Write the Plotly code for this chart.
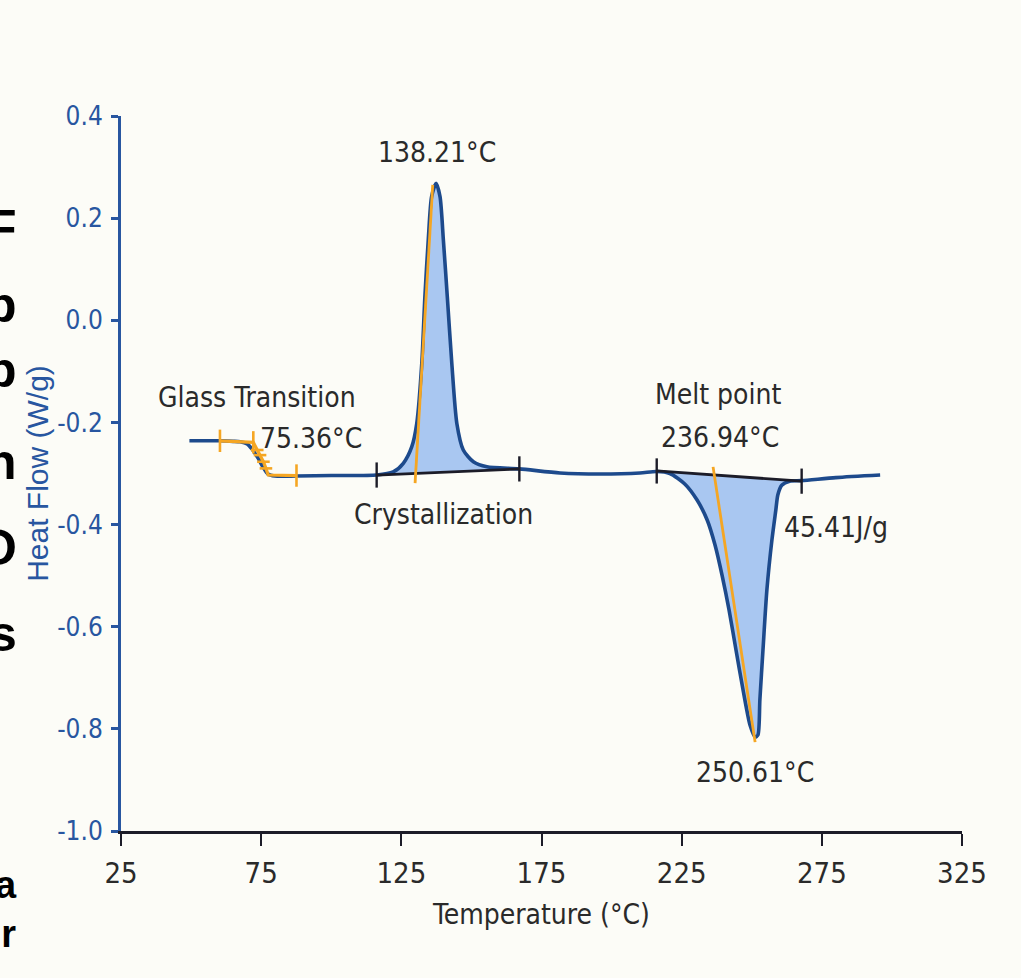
import plotly.graph_objects as go

# ---- data ----
temperature = [49.4, 55.0, 60.3, 65.0, 67.5, 70.0, 71.7, 73.9, 75.6, 77.4, 79.9, 87.7, 100.0,
               116.2, 122.1, 125.7, 128.7, 130.5, 132.3, 133.4, 134.6, 135.8, 137.4, 138.8,
               140.0, 141.4, 143.0, 144.8, 147.1, 150.7, 155.5, 167.1, 181.6, 195.9, 210.1,
               216.1, 220.8, 226.2, 230.5, 234.1, 236.9, 239.4, 241.9, 244.4, 246.9, 249.4,
               251.2, 252.2, 252.9, 254.0, 255.4, 257.2, 258.6, 259.3, 260.7, 263.5, 267.8,
               280.0, 295.8]
heat_flow = [-0.236, -0.236, -0.236, -0.237, -0.238, -0.242, -0.252, -0.270, -0.287, -0.301,
             -0.305, -0.305, -0.304,
             -0.303, -0.297, -0.280, -0.248, -0.202, -0.084, 0.046, 0.157, 0.242, 0.268, 0.242,
             0.157, 0.046, -0.084, -0.202, -0.254, -0.277, -0.287, -0.291, -0.299, -0.301, -0.299,
             -0.296, -0.300, -0.321, -0.352, -0.391, -0.440, -0.499, -0.567, -0.646, -0.724, -0.793,
             -0.816, -0.812, -0.743, -0.646, -0.528, -0.430, -0.371, -0.342, -0.323, -0.315, -0.314,
             -0.308, -0.303]

cryst_base_T = [116.2, 167.1]
cryst_base_v = [-0.303, -0.291]
melt_base_T = [216.1, 267.8]
melt_base_v = [-0.295, -0.315]

cryst_onset_T = [129.9, 136.2]
cryst_onset_v = [-0.319, 0.265]
melt_onset_T = [236.2, 251.2]
melt_onset_v = [-0.287, -0.826]

glass_T = [60.3, 72.2, 73.6, 74.6, 75.8, 76.7, 77.5, 87.6]
glass_v = [-0.236, -0.239, -0.254, -0.264, -0.277, -0.290, -0.303, -0.304]
glass_tick_T = [60.3, 72.2, 87.6]
glass_tick_v = [-0.236, -0.239, -0.304]
glass_step_T = [73.6, 74.6, 75.8, 76.7]
glass_step_v = [-0.254, -0.264, -0.277, -0.290]

x_ticks = [25, 75, 125, 175, 225, 275, 325]
y_ticks = [0.4, 0.2, 0.0, -0.2, -0.4, -0.6, -0.8, -1.0]
y_tick_text = ["0.4", "0.2", "0.0", "-0.2", "-0.4", "-0.6", "-0.8", "-1.0"]

labels = [
    ("138.21°C", 137.7, 0.328),
    ("Glass Transition", 73.5, -0.152),
    ("75.36°C", 92.8, -0.232),
    ("Crystallization", 139.9, -0.381),
    ("Melt point", 238.0, -0.146),
    ("236.94°C", 238.7, -0.230),
    ("45.41J/g", 280.1, -0.405),
    ("250.61°C", 251.2, -0.886),
]

side_letters = [("F", 228), ("p", 305), ("p", 370), ("n", 462), ("O", 548),
                ("s", 634), ("a<br>r", 909)]

CURVE = "#1d4a8c"
FILL = "#a9c7f1"
ORANGE = "#f5a623"
BASE = "#1c1c28"
AXBLUE = "#2856a0"
TXT = "#2a2a2a"
NARROW = "Liberation Sans Narrow, DejaVu Sans Condensed, Arial Narrow, sans-serif"

fig = go.Figure()


def region(lo, hi, base_T, base_v):
    xs = [t for t in temperature if lo <= t <= hi]
    ys = [v for t, v in zip(temperature, heat_flow) if lo <= t <= hi]
    return xs + base_T[::-1] + [xs[0]], ys + base_v[::-1] + [ys[0]]


for bT, bv in ((cryst_base_T, cryst_base_v), (melt_base_T, melt_base_v)):
    fx, fy = region(bT[0], bT[1], bT, bv)
    fig.add_trace(go.Scatter(x=fx, y=fy, mode="lines", fill="toself", fillcolor=FILL,
                             line=dict(width=0, color=FILL), hoverinfo="skip"))

fig.add_trace(go.Scatter(x=temperature, y=heat_flow, mode="lines",
                         line=dict(color=CURVE, width=3.6, shape="spline", smoothing=0.7)))

for bT, bv in ((cryst_base_T, cryst_base_v), (melt_base_T, melt_base_v)):
    fig.add_trace(go.Scatter(x=bT, y=bv, mode="lines+markers",
                             line=dict(color=BASE, width=2.8),
                             marker=dict(symbol="line-ns", size=18,
                                         line=dict(color=BASE, width=2.4))))

for oT, ov in ((cryst_onset_T, cryst_onset_v), (melt_onset_T, melt_onset_v)):
    fig.add_trace(go.Scatter(x=oT, y=ov, mode="lines", line=dict(color=ORANGE, width=2.8)))

fig.add_trace(go.Scatter(x=glass_T, y=glass_v, mode="lines", line=dict(color=ORANGE, width=3.2)))
fig.add_trace(go.Scatter(x=glass_tick_T, y=glass_tick_v, mode="markers",
                         marker=dict(symbol="line-ns", size=16, line=dict(color=ORANGE, width=2.6))))
fig.add_trace(go.Scatter(x=glass_step_T, y=glass_step_v, mode="markers",
                         marker=dict(symbol="line-ew", size=9, line=dict(color=ORANGE, width=2.6))))

for txt, tx, ty in labels:
    fig.add_annotation(x=tx, y=ty, text=txt, showarrow=False, xanchor="center", yanchor="middle",
                       font=dict(family=NARROW, size=28, color=TXT))

for ch, py in side_letters:
    fig.add_annotation(xref="paper", yref="paper", x=(19 - 121) / 841, y=(831 - py) / 715,
                       text="<b>" + ch + "</b>", showarrow=False, xanchor="right", yanchor="middle",
                       align="right",
                       font=dict(family="Liberation Sans, Arial, sans-serif", size=50 if "<br>" not in ch else 38,
                                 color="#000000"))

fig.update_layout(
    width=1021, height=978,
    margin=dict(l=121, r=59, t=116, b=147),
    paper_bgcolor="#fcfcf7", plot_bgcolor="rgba(0,0,0,0)",
    showlegend=False,
    xaxis=dict(range=[25, 325], tickvals=x_ticks, ticktext=[str(v) for v in x_ticks],
               showgrid=False, zeroline=False, showline=True, linecolor=BASE, linewidth=3,
               ticks="outside", ticklen=12, tickwidth=2, tickcolor=BASE,
               tickfont=dict(family=NARROW, size=29, color=TXT), ticklabelstandoff=2,
               title=dict(text="Temperature (°C)", font=dict(family=NARROW, size=28, color=TXT),
                          standoff=16)),
    yaxis=dict(range=[-1.0, 0.4], tickvals=y_ticks, ticktext=y_tick_text,
               showgrid=False, zeroline=False, showline=True, linecolor=AXBLUE, linewidth=3,
               ticks="outside", ticklen=7, tickwidth=3, tickcolor=AXBLUE,
               tickfont=dict(family=NARROW, size=26, color=AXBLUE), ticklabelstandoff=3,
               title=dict(text="Heat Flow (W/g)",
                          font=dict(family="Liberation Sans, Arial, sans-serif", size=30, color=AXBLUE),
                          standoff=0)),
)

fig.write_html("out.html")
